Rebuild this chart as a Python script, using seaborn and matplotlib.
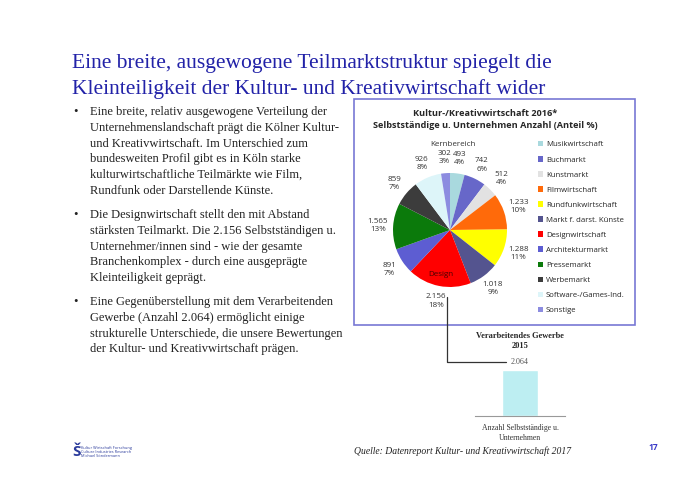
import numpy as np
import pandas as pd
import matplotlib
matplotlib.use("Agg")
import matplotlib.pyplot as plt
import seaborn as sns
from matplotlib.patches import Rectangle
from matplotlib.lines import Line2D

# --- data ---
markets = ["Musikwirtschaft", "Buchmarkt", "Kunstmarkt", "Filmwirtschaft",
           "Rundfunkwirtschaft", "Markt f. darst. Künste", "Designwirtschaft",
           "Architekturmarkt", "Pressemarkt", "Werbemarkt",
           "Software-/Games-Ind.", "Sonstige"]
counts = [493, 742, 512, 1233, 1288, 1018, 2156, 891, 1565, 859, 926, 302]
shares = [4, 6, 4, 10, 11, 9, 18, 7, 13, 7, 8, 3]
colors = ["#a9d9de", "#6767c9", "#e2e2e2", "#ff6a0a", "#ffff00", "#54548f",
          "#ff0000", "#5d5dd2", "#0b7a0b", "#3c3c3c", "#ddf5f9", "#8c8ce0"]

vg_category = ["Anzahl Selbstständige u.\nUnternehmen"]
vg_count = [2064]

title = ("Eine breite, ausgewogene Teilmarktstruktur spiegelt die\n"
         "Kleinteiligkeit der Kultur- und Kreativwirtschaft wider")
bullets = [
    "Eine breite, relativ ausgewogene Verteilung der\n"
    "Unternehmenslandschaft prägt die Kölner Kultur-\n"
    "und Kreativwirtschaft. Im Unterschied zum\n"
    "bundesweiten Profil gibt es in Köln starke\n"
    "kulturwirtschaftliche Teilmärkte wie Film,\n"
    "Rundfunk oder Darstellende Künste.",
    "Die Designwirtschaft stellt den mit Abstand\n"
    "stärksten Teilmarkt. Die 2.156 Selbstständigen u.\n"
    "Unternehmer/innen sind - wie der gesamte\n"
    "Branchenkomplex - durch eine ausgeprägte\n"
    "Kleinteiligkeit geprägt.",
    "Eine Gegenüberstellung mit dem Verarbeitenden\n"
    "Gewerbe (Anzahl 2.064) ermöglicht einige\n"
    "strukturelle Unterschiede, die unsere Bewertungen\n"
    "der Kultur- und Kreativwirtschaft prägen.",
]
bullet_tops = [106, 209, 296]

W, H = 700, 495
sns.set_style("white")
plt.rcParams["font.family"] = ["Liberation Serif", "DejaVu Serif"]


def fx(x):
    return x / W


def fy(y):
    return 1 - y / H


fig = plt.figure(figsize=(7, 4.95), dpi=100)
fig.patch.set_facecolor("white")

# slide title
fig.text(fx(72), fy(54), title, fontsize=15.5, color="#2222a8", va="top",
         ha="left", linespacing=1.4)

# bullets
for top, para in zip(bullet_tops, bullets):
    fig.text(fx(73), fy(top), "•", fontsize=9, va="top", color="#222222")
    fig.text(fx(90), fy(top), para, fontsize=9, va="top", ha="left",
             color="#222222", linespacing=1.42)

# chart box
fig.patches.append(Rectangle((fx(354), fy(325)), fx(635) - fx(354),
                             fy(99) - fy(325), transform=fig.transFigure,
                             fill=False, edgecolor="#7878d4", lw=1.2))

sans = ["Open Sans", "DejaVu Sans"]
fig.text(fx(485), fy(113), "Kultur-/Kreativwirtschaft 2016*", family=sans,
         fontsize=6.6, fontweight="bold", ha="center", va="center")
fig.text(fx(485), fy(125), "Selbstständige u. Unternehmen Anzahl (Anteil %)",
         family=sans, fontsize=6.6, fontweight="bold", ha="center", va="center")

# pie
cx, cy, r = 450, 230, 57
ax = fig.add_axes([fx(cx - r), fy(cy + r), 2 * r / W, 2 * r / H])
wedges, _ = ax.pie(counts, colors=colors, startangle=90, counterclock=False,
                   radius=1, wedgeprops=dict(linewidth=0))
ax.set_xlim(-1, 1)
ax.set_ylim(-1, 1)
ax.set_aspect("equal")
ax.axis("off")

total = sum(counts)
cum = np.cumsum([0] + counts)
for i, (c, s) in enumerate(zip(counts, shares)):
    mid = (cum[i] + c / 2) / total * 2 * np.pi
    lx, ly = 1.27 * np.sin(mid), 1.27 * np.cos(mid)
    lab = f"{c:,}".replace(",", ".") + f"\n{s}%"
    ax.text(lx, ly, lab, family=sans, fontsize=5.8, ha="center", va="center",
            color="#333333", linespacing=1.25)
    if markets[i] == "Designwirtschaft":
        ax.text(0.8 * np.sin(mid), 0.8 * np.cos(mid), "Design", family=sans,
                fontsize=5.8, ha="center", va="center", color="#4a0000")
ax.text(0.05, 1.5, "Kernbereich", family=sans, fontsize=5.8, ha="center",
        va="center", color="#333333")

fig.legend(wedges, markets, loc="upper left",
           bbox_to_anchor=(fx(538), fy(141)), bbox_transform=fig.transFigure,
           frameon=False, prop=dict(family=sans, size=5.6),
           handlelength=0.7, handleheight=0.7, handletextpad=0.3,
           labelspacing=0.98, borderpad=0, borderaxespad=0)

# connector line from design slice to the comparison bar
fig.lines.append(Line2D([fx(447), fx(447), fx(506)], [fy(297), fy(362), fy(362)],
                        transform=fig.transFigure, color="#333333", lw=0.9))

# comparison bar (Verarbeitendes Gewerbe)
bx = fig.add_axes([fx(475), fy(416), fx(565) - fx(475), fy(370) - fy(416)])
vg = pd.DataFrame({"cat": vg_category, "n": vg_count})
sns.barplot(data=vg, x="cat", y="n", ax=bx, color="#bdeef2", width=0.4,
            saturation=1)
bx.set_xlim(-0.5, 0.5)
bx.set_ylim(0, max(vg_count))
bx.set_xlabel("")
bx.set_ylabel("")
bx.set_yticks([])
for sp in ["top", "left", "right"]:
    bx.spines[sp].set_visible(False)
bx.spines["bottom"].set_color("#999999")
bx.spines["bottom"].set_linewidth(0.8)
bx.tick_params(axis="x", length=0, labelsize=5.6, colors="#333333", pad=6)
for t in bx.get_xticklabels():
    t.set_linespacing(1.3)
bx.bar_label(bx.containers[0], labels=[f"{v:,}".replace(",", ".") for v in vg_count],
             padding=3, fontsize=5.8, color="#555555")
bx.set_title("Verarbeitendes Gewerbe\n2015", fontsize=6, fontweight="bold",
             pad=16, linespacing=1.3)

# source and page number
fig.text(fx(354), fy(451), "Quelle: Datenreport Kultur- und Kreativwirtschaft 2017",
         fontsize=6.9, style="italic", ha="left", va="center", color="#222222")
fig.text(fx(653), fy(448), "17", family=sans, fontsize=6, fontweight="bold",
         color="#3a3ac8", ha="center", va="center")

# logo
fig.text(fx(72), fy(452), "Š", family=sans, fontsize=11, fontweight="bold",
         color="#2c3c9c", ha="left", va="center")
fig.text(fx(81), fy(452), "Kultur Wirtschaft Forschung\nCulture Industries Research\nMichael Söndermann",
         family=sans, fontsize=2.8, color="#2c3c9c", ha="left", va="center",
         linespacing=1.1)

fig.savefig("out.png", dpi=100)
